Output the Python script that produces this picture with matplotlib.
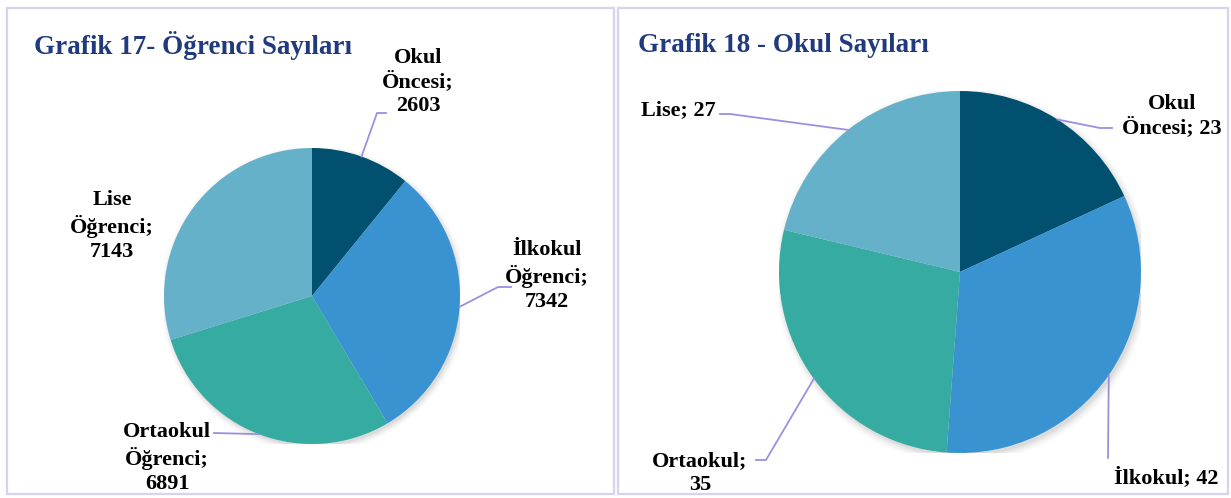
import numpy as np
import matplotlib
matplotlib.use("Agg")
import matplotlib.pyplot as plt
from matplotlib.patches import Rectangle, Circle

W, H = 1231, 498

# Grafik 17 - student counts
ogr_labels = ["Okul\nÖncesi;\n2603", "İlkokul\nÖğrenci;\n7342", "Ortaokul\nÖğrenci;\n6891", "Lise\nÖğrenci;\n7143"]
ogr_values = [2603, 7342, 6891, 7143]

# Grafik 18 - school counts
okul_labels = ["Okul\nÖncesi; 23", "İlkokul; 42", "Ortaokul;\n35", "Lise; 27"]
okul_values = [23, 42, 35, 27]

colors = ["#02506f", "#3993d0", "#35aba1", "#66b1ca"]
title_color = "#1f3a7d"
leader_color = "#9b90e0"
border_color = "#d5d3ef"

plt.rcParams["font.family"] = ["Liberation Serif", "DejaVu Serif"]


def fx(x):
    return x / W


def fy(y):
    return 1 - y / H


def pie_axes(fig, cx, cy, r):
    ax = fig.add_axes([fx(cx - r), fy(cy + r), 2 * r / W, 2 * r / H])
    return ax


def draw_pie(ax, values):
    # soft shadow
    for i, a in enumerate([0.05, 0.04, 0.03, 0.02]):
        ax.add_patch(Circle((0.012, -0.018), 1.0 + 0.012 * i, color="black", alpha=a, lw=0, zorder=0))
    wedges, _ = ax.pie(values, colors=colors, startangle=90, counterclock=False, radius=1,
                       wedgeprops=dict(linewidth=0))
    ax.set_xlim(-1, 1)
    ax.set_ylim(-1, 1)
    ax.set_aspect("auto")
    ax.axis("off")
    return wedges


def leader(fig, ax, wedge, elbow, end):
    mid = np.deg2rad((wedge.theta1 + wedge.theta2) / 2)
    p = ax.transData.transform((np.cos(mid), np.sin(mid)))
    p = fig.transFigure.inverted().transform(p)
    xs = [p[0]]
    ys = [p[1]]
    if elbow is not None:
        xs.append(fx(elbow[0]))
        ys.append(fy(elbow[1]))
    xs.append(fx(end[0]))
    ys.append(fy(end[1]))
    fig.add_artist(plt.Line2D(xs, ys, color=leader_color, lw=1.3, transform=fig.transFigure, zorder=1))


fig = plt.figure(figsize=(W / 100, H / 100), dpi=100)

# panel frames
fig.add_artist(Rectangle((fx(7), fy(494)), fx(614 - 7), (494 - 8) / H, transform=fig.transFigure,
                         fill=False, ec=border_color, lw=1.6))
fig.add_artist(Rectangle((fx(618), fy(494)), fx(1228 - 618), (494 - 8) / H, transform=fig.transFigure,
                         fill=False, ec=border_color, lw=1.6))

label_kw = dict(fontsize=16, fontweight="bold", color="black", ha="center", va="center",
                multialignment="center", linespacing=1.25)

# ---- Grafik 17 ----
fig.text(fx(34), fy(46), "Grafik 17- Öğrenci Sayıları", fontsize=19.5, fontweight="bold",
         color=title_color, ha="left", va="center")
ax1 = pie_axes(fig, 312, 296, 148)
w1 = draw_pie(ax1, ogr_values)
pos1 = [(418, 82), (547, 276), (167, 458), (112, 226)]
for lab, (x, y) in zip(ogr_labels, pos1):
    fig.text(fx(x), fy(y), lab, **label_kw)
leader(fig, ax1, w1[0], (377, 113), (386, 113))
leader(fig, ax1, w1[1], (498, 287), (511, 287))
leader(fig, ax1, w1[2], None, (214, 433))

# ---- Grafik 18 ----
fig.text(fx(638), fy(45), "Grafik 18 - Okul Sayıları", fontsize=19.5, fontweight="bold",
         color=title_color, ha="left", va="center")
ax2 = pie_axes(fig, 960, 272, 181)
w2 = draw_pie(ax2, okul_values)
pos2 = [(1172, 116), (1166, 478), (700, 473), (678, 110)]
for lab, (x, y) in zip(okul_labels, pos2):
    fig.text(fx(x), fy(y), lab, **label_kw)
leader(fig, ax2, w2[0], (1100, 128), (1112, 128))
leader(fig, ax2, w2[1], None, (1108, 458))
leader(fig, ax2, w2[2], (766, 460), (756, 460))
leader(fig, ax2, w2[3], (730, 114), (720, 114))

fig.savefig("out.png", dpi=100)
